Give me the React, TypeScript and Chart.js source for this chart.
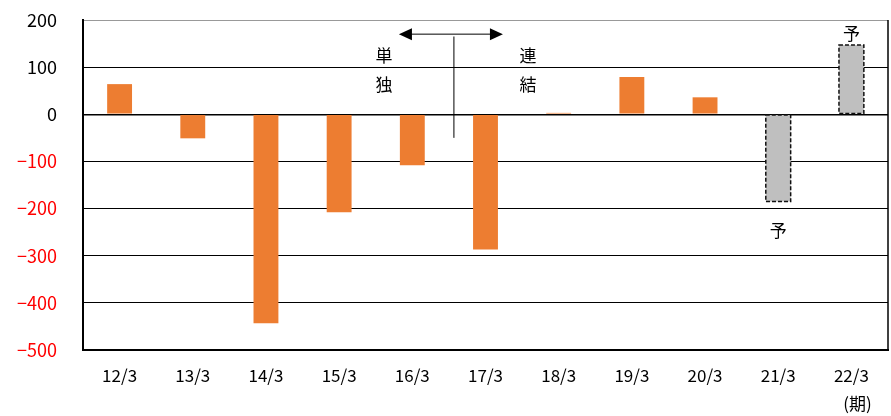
import React, { useEffect, useRef } from "react";
import { Chart, registerables } from "chart.js";

Chart.register(...registerables);

const categories = ["12/3", "13/3", "14/3", "15/3", "16/3", "17/3", "18/3", "19/3", "20/3", "21/3", "22/3"];
const values = [64, -51, -443, -208, -108, -287, 3, 79, 36, -185, 147];
const forecast = [false, false, false, false, false, false, false, false, false, true, true];
const yTicks = [200, 100, 0, -100, -200, -300, -400, -500];

const ORANGE = "#ED7D31";
const GRAY = "#BFBFBF";
const FONT = "'Noto Sans CJK JP', 'Noto Sans', sans-serif";

const annotations = {
  id: "annotations",
  afterDatasetsDraw(chart: any) {
    const { ctx, chartArea, scales } = chart;
    const x = scales.x;
    const y = scales.y;
    const meta = chart.getDatasetMeta(0);

    ctx.save();
    // dashed outline on forecast bars
    ctx.strokeStyle = "#111";
    ctx.lineWidth = 1.5;
    ctx.setLineDash([4, 2]);
    meta.data.forEach((bar: any, i: number) => {
      if (!forecast[i]) return;
      const w = bar.width;
      const top = Math.min(bar.y, bar.base);
      const h = Math.abs(bar.y - bar.base);
      ctx.strokeRect(bar.x - w / 2, top, w, h);
    });
    ctx.setLineDash([]);

    // right frame line
    ctx.strokeStyle = "#000";
    ctx.lineWidth = 1.5;
    ctx.beginPath();
    ctx.moveTo(chartArea.right, chartArea.top);
    ctx.lineTo(chartArea.right, chartArea.bottom);
    ctx.stroke();

    // divider between 単独 and 連結 periods
    const midX = (x.getPixelForValue(4) + x.getPixelForValue(5)) / 2 + 5;
    ctx.lineWidth = 1;
    ctx.beginPath();
    ctx.moveTo(midX, y.getPixelForValue(165));
    ctx.lineTo(midX, y.getPixelForValue(-50));
    ctx.stroke();

    // double arrow
    const ay = y.getPixelForValue(170);
    const ax0 = midX - 55;
    const ax1 = midX + 49;
    ctx.beginPath();
    ctx.moveTo(ax0 + 10, ay);
    ctx.lineTo(ax1 - 10, ay);
    ctx.stroke();
    ctx.fillStyle = "#000";
    ctx.beginPath();
    ctx.moveTo(ax0, ay);
    ctx.lineTo(ax0 + 13, ay - 6);
    ctx.lineTo(ax0 + 13, ay + 6);
    ctx.closePath();
    ctx.fill();
    ctx.beginPath();
    ctx.moveTo(ax1, ay);
    ctx.lineTo(ax1 - 13, ay - 6);
    ctx.lineTo(ax1 - 13, ay + 6);
    ctx.closePath();
    ctx.fill();

    // period labels
    ctx.font = `17px ${FONT}`;
    ctx.textAlign = "center";
    ctx.textBaseline = "middle";
    const lx = midX - 70;
    const rx = midX + 74;
    ctx.fillText("単", lx, y.getPixelForValue(125));
    ctx.fillText("独", lx, y.getPixelForValue(63));
    ctx.fillText("連", rx, y.getPixelForValue(125));
    ctx.fillText("結", rx, y.getPixelForValue(63));

    // forecast markers
    ctx.fillText("予", x.getPixelForValue(10), y.getPixelForValue(172));
    ctx.fillText("予", x.getPixelForValue(9), y.getPixelForValue(-247));

    // period unit
    ctx.font = `17px ${FONT}`;
    ctx.fillText("(期)", x.getPixelForValue(10) + 6, chartArea.bottom + 54);
    ctx.restore();
  },
};

export default function App() {
  const ref = useRef<HTMLCanvasElement | null>(null);

  useEffect(() => {
    document.body.style.margin = "0";
    const chart = new Chart(ref.current as HTMLCanvasElement, {
      type: "bar",
      data: {
        labels: categories,
        datasets: [
          {
            data: values,
            backgroundColor: values.map((_, i) => (forecast[i] ? GRAY : ORANGE)),
            categoryPercentage: 1,
            barPercentage: 0.34,
          },
        ],
      },
      options: {
        animation: false,
        responsive: false,
        maintainAspectRatio: false,
        layout: { padding: { top: 20, right: 3, left: 0, bottom: 0 } },
        plugins: { legend: { display: false }, tooltip: { enabled: false } },
        scales: {
          x: {
            grid: { display: false, drawTicks: false },
            border: { display: true, color: "#000", width: 2 },
            ticks: { color: "#000", padding: 15, font: { size: 17, family: FONT } },
            afterFit: (s: any) => {
              s.height = 66;
              s.paddingLeft = 0;
              s.paddingRight = 0;
            },
          },
          y: {
            min: -500,
            max: 200,
            afterBuildTicks: (s: any) => {
              s.ticks = yTicks.map((v) => ({ value: v }));
            },
            grid: {
              drawTicks: false,
              color: (c: any) => (c.tick && c.tick.value === 200 ? "#999" : "#000"),
              lineWidth: (c: any) => (c.tick && c.tick.value === 0 ? 1.5 : 1),
            },
            border: { display: true, color: "#000", width: 2 },
            ticks: {
              padding: 26,
              font: { size: 18, family: FONT },
              color: (c: any) => (c.tick && c.tick.value < 0 ? "#FF0000" : "#000"),
              callback: (v: any) => (Number(v) < 0 ? "\u2212" + Math.abs(Number(v)) : String(v)),
            },
            afterFit: (s: any) => {
              s.width = 83;
              s.paddingTop = 0;
              s.paddingBottom = 0;
            },
          },
        },
      },
      plugins: [annotations],
    });
    return () => chart.destroy();
  }, []);

  return (
    <div style={{ position: "fixed", left: 0, top: 0, width: 891, height: 416, background: "#fff" }}>
      <canvas ref={ref} width={891} height={416} />
    </div>
  );
}
